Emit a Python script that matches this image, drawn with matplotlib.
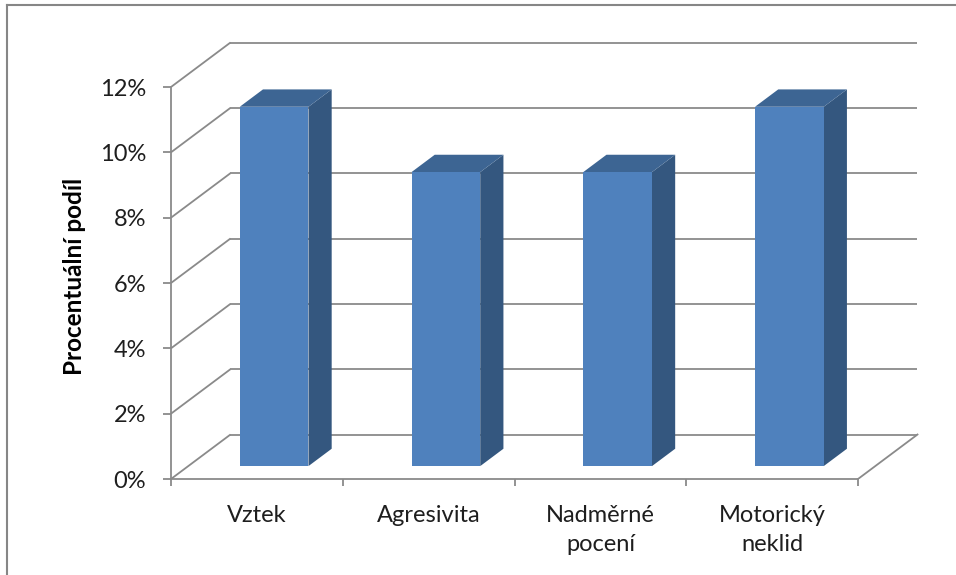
import matplotlib
matplotlib.use("Agg")
import matplotlib.pyplot as plt
from matplotlib.patches import Polygon
from matplotlib.lines import Line2D
from matplotlib.ticker import FuncFormatter, FixedLocator

plt.rcParams['font.family'] = ['Lato', 'DejaVu Sans']

categories = ["Vztek", "Agresivita", "Nadměrné\npocení", "Motorický\nneklid"]
values = [11, 9, 9, 11]          # procenta
y_ticks = [0, 2, 4, 6, 8, 10, 12]

FRONT = "#4F81BD"
SIDE = "#34577F"
TOP = "#3D6593"
GRID = "#8A8A8A"
TEXT = "#1E1E1E"

# hloubka 3D prostoru v datových jednotkách (posun zadní stěny)
DEPTH_X = 0.3464
DEPTH_Y = 1.362
BAR_FRONT = 0.29   # poloha přední stěny sloupce v hloubce
BAR_BACK = 0.68    # poloha zadní stěny sloupce
BAR_W = 0.4

W, H = 956, 575
fig = plt.figure(figsize=(W / 100, H / 100), dpi=100)

# rámeček grafu
fig.add_artist(Line2D([7 / W, 7 / W], [0, 1 - 5 / H], color="#868686", lw=1.5,
                      transform=fig.transFigure))
fig.add_artist(Line2D([7 / W, 1], [1 - 5 / H, 1 - 5 / H], color="#868686", lw=1.5,
                      transform=fig.transFigure))

ux = (858 - 171) / 4
uy = (479 - 87) / 12
xmax, ymax = 4.45, 13.6
ax = fig.add_axes([171 / W, 96 / H, xmax * ux / W, ymax * uy / H])
ax.set_xlim(0, xmax)
ax.set_ylim(0, ymax)
ax.patch.set_visible(False)

n = len(categories)

# boční stěna a zadní stěna s mřížkou
for v in y_ticks:
    ax.plot([0, DEPTH_X], [v, v + DEPTH_Y], color=GRID, lw=1.3, zorder=1,
            solid_capstyle="butt")
    ax.plot([DEPTH_X, n + DEPTH_X], [v + DEPTH_Y, v + DEPTH_Y], color=GRID, lw=1.3,
            zorder=1, solid_capstyle="butt")
# pravý okraj podlahy
ax.plot([n, n + DEPTH_X], [0, DEPTH_Y], color=GRID, lw=1.3, zorder=1)

# sloupce: přední stěna, bok a víko
for i, v in enumerate(values):
    x0 = i + 0.5 - BAR_W / 2
    x1 = i + 0.5 + BAR_W / 2
    fx, fy = BAR_FRONT * DEPTH_X, BAR_FRONT * DEPTH_Y
    bx, by = BAR_BACK * DEPTH_X, BAR_BACK * DEPTH_Y
    ax.bar(i + 0.5 + fx, v, width=BAR_W, bottom=fy, color=FRONT, zorder=4,
           linewidth=0)
    ax.add_patch(Polygon([(x1 + fx, fy), (x1 + bx, by), (x1 + bx, v + by),
                          (x1 + fx, v + fy)], closed=True, facecolor=SIDE,
                         edgecolor="none", zorder=3))
    ax.add_patch(Polygon([(x0 + fx, v + fy), (x1 + fx, v + fy), (x1 + bx, v + by),
                          (x0 + bx, v + by)], closed=True, facecolor=TOP,
                         edgecolor="none", zorder=3))

# osy
for side in ("top", "right"):
    ax.spines[side].set_visible(False)
ax.spines["left"].set_bounds(0, 12)
ax.spines["bottom"].set_bounds(0, n)
for side in ("left", "bottom"):
    ax.spines[side].set_color(GRID)
    ax.spines[side].set_linewidth(1.3)
    ax.spines[side].set_zorder(2)

ax.yaxis.set_major_locator(FixedLocator(y_ticks))
ax.yaxis.set_major_formatter(FuncFormatter(lambda v, p: f"{v:.0f}%"))
ax.tick_params(axis="y", length=6, width=1.3, color=GRID, pad=12,
               labelsize=17, labelcolor=TEXT)

ax.set_xticks(range(n + 1))
ax.set_xticklabels([])
ax.set_xticks([i + 0.5 for i in range(n)], minor=True)
ax.set_xticklabels(categories, minor=True, linespacing=1.45)
ax.tick_params(axis="x", which="major", length=5, width=1.3, color=GRID)
ax.tick_params(axis="x", which="minor", length=0, pad=19, labelsize=17,
               labelcolor=TEXT)

ax.set_ylabel("Procentuální podíl", fontsize=17.5, fontweight="bold", color="black")
ax.yaxis.label.set_va("center")
ax.yaxis.set_label_coords((75 - 171) / (xmax * ux), (479 - 276) / (ymax * uy))

fig.savefig("out.png", dpi=100)
